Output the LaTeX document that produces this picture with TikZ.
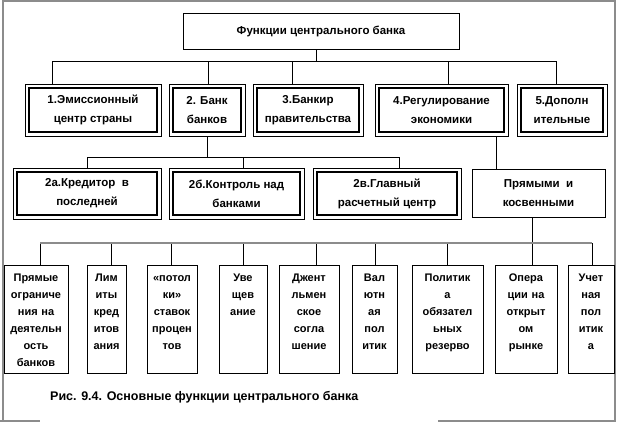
\documentclass[tikz,border=0pt]{standalone}
\usepackage{fontspec}
\setmainfont{Liberation Sans}
\begin{document}
\begin{tikzpicture}[x=1bp,y=-1bp,
        every node/.style={font=\bfseries\fontsize{11.5bp}{19bp}\selectfont},
        box/.style={draw,line width=0.8bp,inner sep=0pt,align=center},
        lowbox/.style={draw,line width=0.8bp,anchor=north,align=center,inner xsep=0pt,inner ysep=4bp,
            text width=#1,text height=12.5bp,text depth=87.5bp,font=\bfseries\fontsize{11bp}{17bp}\selectfont},
        link/.style={line width=0.8bp},
        bus/.style={draw=black!45,line width=1.6bp},
        sheet/.style={draw=black!45,line width=1.2bp}]
                \useasboundingbox (0,0) rectangle (618,424);
                \draw[sheet] (3,421) -- (3,1) -- (615,1) -- (615,421) -- (438,421);
                \draw[sheet] (0,421) -- (40,421);
                \node[box,minimum width=276bp,minimum height=36bp] (func) at (321,31) {Функции центрального банка};
                \node[box,minimum width=136bp,minimum height=52bp] (emis) at (93,110) {1.Эмиссионный\\центр страны};
                \node[box,minimum width=76bp,minimum height=52bp] (bank) at (207,110) {2. Банк\\банков};
                \node[box,minimum width=110bp,minimum height=52bp] (govt) at (308,110) {3.Банкир\\правительства};
                \node[box,minimum width=133bp,minimum height=52bp] (econ) at (441.5,110) {4.Регулирование\\экономики};
                \node[box,minimum width=90bp,minimum height=52bp] (extra) at (562,110) {5.Дополн\\ительные};
                \node[box,minimum width=148bp,minimum height=51bp] (lend) at (87,193.5) {2а.Кредитор\ \ в\\последней};
                \node[box,minimum width=135bp,minimum height=51bp] (ctrl) at (236.5,193.5) {2б.Контроль над\\банками};
                \node[box,minimum width=148bp,minimum height=51bp] (settle) at (387,193.5) {2в.Главный\\расчетный центр};
                \node[box,minimum width=133bp,minimum height=48bp] (tools) at (538.5,193) {Прямыми\ \ и\\косвенными};
                \foreach \n in {emis,bank,govt,econ,extra,lend,ctrl,settle}
                    \draw[line width=1.9bp] ([shift={(4,4)}]\n.north west) rectangle ([shift={(-4,-4)}]\n.south east);
                \node[lowbox=64bp] (direct) at (36,265) {Прямые\\ограниче\\ния на\\деятельн\\ость\\банков};
                \node[lowbox=39bp] (limits) at (106.5,265) {Лим\\иты\\кред\\итов\\ания};
                \node[lowbox=50bp] (caps) at (172,265) {«потол\\ки»\\ставок\\процен\\тов};
                \node[lowbox=48bp] (notice) at (243,265) {Уве\\щев\\ание};
                \node[lowbox=60bp] (gentl) at (309,265) {Джент\\льмен\\ское\\согла\\шение};
                \node[lowbox=45bp] (fx) at (374.5,265) {Вал\\ютн\\ая\\пол\\итик};
                \node[lowbox=71bp] (reserve) at (447.5,265) {Политик\\а\\обязател\\ьных\\резерво};
                \node[lowbox=62bp] (market) at (526,265) {Опера\\ции на\\открыт\\ом\\рынке};
                \node[lowbox=46bp] (discount) at (591,265) {Учет\\ная\\пол\\итик\\а};
                \node[font=\bfseries\fontsize{12.5bp}{15bp}\selectfont,anchor=west,inner sep=0pt] (cap) at (50,397) {Рис. 9.4. Основные функции центрального банка};
                \coordinate (top) at (316,61);
                \draw[link] (func.south -| top) -- (top);
                \foreach \x/\n [count=\i] in {52/emis,208/bank,292/govt,448/econ,556/extra} {
                    \coordinate (d\i) at (\x,61);
                    \draw[link] (d\i) -- (d\i |- \n.north);
                }
                \draw[link] (d1) -- (d5);
                \foreach \x/\n [count=\i] in {87/lend,243/ctrl,399/settle} {
                    \coordinate (e\i) at (\x,157);
                    \draw[link] (e\i) -- (e\i |- \n.north);
                }
                \draw[link] (e1) -- (e3);
                \draw[link] (bank.south) -- (bank.south |- e1);
                \coordinate (f1) at (496,150);
                \draw[link] (f1 |- econ.south) -- (f1 |- tools.north);
                \foreach \x/\n [count=\i] in {40/direct,111/limits,171/caps,243/notice,316/gentl,375/fx,447/reserve,532/market,592/discount} {
                    \coordinate (g\i) at (\x,243);
                    \draw[link] (g\i) -- (g\i |- \n.north);
                }
                \draw[link] (g8 |- tools.south) -- (g8);
                \draw[bus] (g1) -- (g9);
            \end{tikzpicture}
\end{document}
